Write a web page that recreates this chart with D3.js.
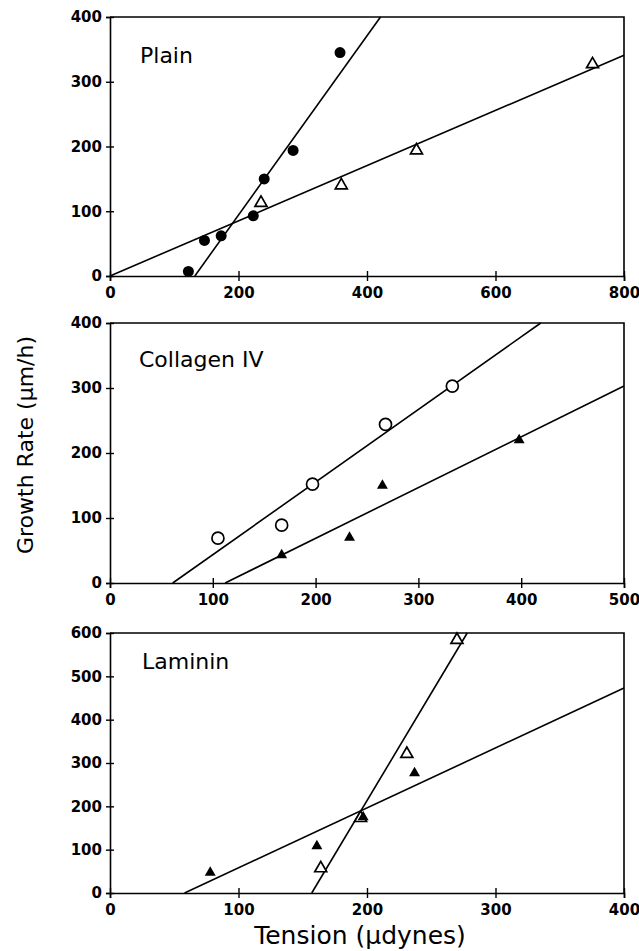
<!DOCTYPE html>
<html lang="en">
<head>
<meta charset="UTF-8">
<title>Growth rate vs tension</title>
<script src="https://cdnjs.cloudflare.com/ajax/libs/d3/7.8.5/d3.min.js"></script>
<style>
  body { margin: 0; background: #fff; }
  .tick text { font-family: "DejaVu Sans", sans-serif; font-weight: bold; font-size: 15px; fill: #000; }
  .lbl { font-family: "DejaVu Sans", sans-serif; fill: #000; }
</style>
</head>
<body>
<svg id="chart" width="639" height="951"></svg>
<script>
// Plain
var plainXTicks = [0, 200, 400, 600, 800];
var plainYTicks = [0, 100, 200, 300, 400];
var plainCircles = [[122, 7], [147, 55], [173, 62], [223, 93], [240, 150], [285, 194], [358, 345]];
var plainTriangles = [[235, 113], [360, 140], [477, 194], [751, 327]];
var plainCircleFit = [[132, 0], [421, 400]];
var plainTriangleFit = [[0, 0], [800, 341]];

// Collagen IV
var collXTicks = [0, 100, 200, 300, 400, 500];
var collYTicks = [0, 100, 200, 300, 400];
var collCircles = [[105, 69], [167, 89], [197, 152], [268, 244], [333, 303]];
var collTriangles = [[167, 43], [233, 70], [265, 150], [398, 220]];
var collCircleFit = [[61, 0], [419, 400]];
var collTriangleFit = [[112, 0], [500, 303]];

// Laminin
var lamXTicks = [0, 100, 200, 300, 400];
var lamYTicks = [0, 100, 200, 300, 400, 500, 600];
var lamOpenTri = [[164, 57], [195, 173], [231, 321], [270, 584]];
var lamFilledTri = [[78, 47], [161, 108], [197, 175], [237, 277]];
var lamOpenFit = [[157, 0], [278, 600]];
var lamFilledFit = [[58, 0], [400, 473]];

var svg = d3.select("#chart");

function panel(cfg) {
	var scX = d3.scaleLinear().domain(d3.extent(cfg.xTicks)).range([110, 624]);
	var scY = d3.scaleLinear().domain(d3.extent(cfg.yTicks)).range([cfg.bottom, cfg.top]);
	var g = svg.append("g");

	// box top + right
	g.append("path")
		.attr("fill", "none")
		.attr("stroke", "#000")
		.attr("stroke-width", 1.6)
		.attr("d", "M110," + cfg.top + "H624V" + cfg.bottom);

	var ax = g.append("g")
		.attr("transform", "translate(0," + cfg.bottom + ")")
		.call(d3.axisBottom(scX).tickValues(cfg.xTicks).tickSize(5).tickPadding(6));
	ax.selectAll(".tick line").attr("y1", -5);
	ax.select(".domain").attr("stroke-width", 1.6);

	var ay = g.append("g")
		.attr("transform", "translate(110,0)")
		.call(d3.axisLeft(scY).tickValues(cfg.yTicks).tickSize(4).tickPadding(4));
	ay.selectAll(".tick line").attr("x1", 4);
	ay.select(".domain").attr("stroke-width", 1.6);
	g.selectAll(".tick line").attr("stroke-width", 1.4);

	var line = d3.line().x(d => scX(d[0])).y(d => scY(d[1]));
	cfg.fits.forEach(f => {
		g.append("path")
			.attr("fill", "none")
			.attr("stroke", "#000")
			.attr("stroke-width", 1.6)
			.attr("d", line(f));
	});

	cfg.marks.forEach(m => {
		var sel = g.append("g").selectAll("path")
			.data(m.data)
			.enter();
		if (m.shape === "circle") {
			sel.append("circle")
				.attr("cx", d => scX(d[0]))
				.attr("cy", d => scY(d[1]))
				.attr("r", m.filled ? 5.5 : 6)
				.attr("fill", m.filled ? "#000" : "#fff")
				.attr("stroke", "#000")
				.attr("stroke-width", m.filled ? 0 : 1.7);
		} else {
			sel.append("path")
				.attr("transform", d => "translate(" + scX(d[0]) + "," + scY(d[1]) + ")")
				.attr("d", d3.symbol().type(d3.symbolTriangle).size(m.filled ? 52 : 62)())
				.attr("fill", m.filled ? "#000" : "#fff")
				.attr("stroke", "#000")
				.attr("stroke-width", m.filled ? 0 : 1.7);
		}
	});

	g.append("text")
		.attr("class", "lbl")
		.attr("x", cfg.title[1])
		.attr("y", cfg.title[2])
		.attr("font-size", 22)
		.text(cfg.title[0]);
}

panel({
	xTicks: plainXTicks, yTicks: plainYTicks, top: 17, bottom: 276,
	fits: [plainCircleFit, plainTriangleFit],
	marks: [
		{ data: plainTriangles, shape: "triangle", filled: false },
		{ data: plainCircles, shape: "circle", filled: true }
	],
	title: ["Plain", 140, 63]
});

panel({
	xTicks: collXTicks, yTicks: collYTicks, top: 323, bottom: 583,
	fits: [collCircleFit, collTriangleFit],
	marks: [
		{ data: collCircles, shape: "circle", filled: false },
		{ data: collTriangles, shape: "triangle", filled: true }
	],
	title: ["Collagen IV", 139, 367]
});

panel({
	xTicks: lamXTicks, yTicks: lamYTicks, top: 633, bottom: 893,
	fits: [lamOpenFit, lamFilledFit],
	marks: [
		{ data: lamOpenTri, shape: "triangle", filled: false },
		{ data: lamFilledTri, shape: "triangle", filled: true }
	],
	title: ["Laminin", 142, 669]
});

svg.append("text")
	.attr("class", "lbl")
	.attr("font-size", 22)
	.attr("text-anchor", "middle")
	.attr("transform", "translate(33,445) rotate(-90)")
	.text("Growth Rate (\u03bcm/h)");

svg.append("text")
	.attr("class", "lbl")
	.attr("font-size", 25)
	.attr("text-anchor", "middle")
	.attr("x", 360)
	.attr("y", 944)
	.text("Tension (\u03bcdynes)");
</script>
</body>
</html>
